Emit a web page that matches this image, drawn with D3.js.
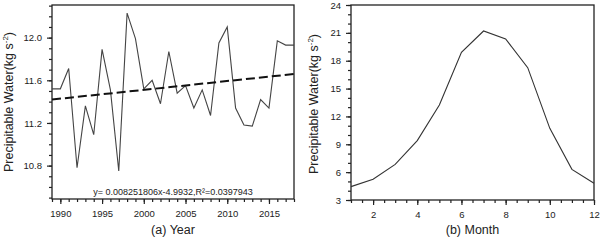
<!DOCTYPE html>
<html><head><meta charset="utf-8">
<script src="https://cdn.jsdelivr.net/npm/d3@7"></script>
<style>body{margin:0;background:#fff}svg{display:block;font-family:"Liberation Sans",Arial,sans-serif}</style>
</head><body><svg id="c" width="601" height="243"></svg>
<script>
const years = d3.range(1989, 2019);
const annualPW = [11.52,11.52,11.71,10.78,11.36,11.09,11.89,11.51,10.75,12.23,11.99,11.52,11.60,11.38,11.87,11.48,11.55,11.34,11.51,11.27,11.95,12.10,11.34,11.18,11.17,11.42,11.34,11.97,11.93,11.93];
const trendSlope = 0.008251806, trendIntercept = -4.9932;
const equationText = "y= 0.008251806x-4.9932,R\u00B2=0.0397943";
const months = d3.range(1, 13);
const monthlyPW = [4.44,5.23,6.84,9.39,13.23,18.9,21.2,20.34,17.25,10.72,6.3,4.8];
const yTicksA = [10.8, 11.2, 11.6, 12.0];
const xTicksA = [1990, 1995, 2000, 2005, 2010, 2015];
const yTicksB = [3, 6, 9, 12, 15, 18, 21, 24];
const xTicksB = [2, 4, 6, 8, 10, 12];

const svg = d3.select("#c");
const col = "#222";

function panel(opt) {
  const g = svg.append("g");
  const x = d3.scaleLinear().domain(opt.xDomain).range([opt.left, opt.right]);
  const y = d3.scaleLinear().domain(opt.yDomain).range([opt.bottom, opt.top]);
  g.append("rect").attr("x", opt.left).attr("y", opt.top)
    .attr("width", opt.right - opt.left).attr("height", opt.bottom - opt.top)
    .attr("fill", "none").attr("stroke", col).attr("stroke-width", 1.3);
  g.append("g").attr("transform", `translate(0,${opt.bottom})`)
    .call(d3.axisBottom(x).tickValues(opt.minorX).tickSize(3).tickFormat(""))
    .call(s => s.select(".domain").remove());
  g.append("g").attr("transform", `translate(${opt.left},0)`)
    .call(d3.axisLeft(y).tickValues(opt.minorY).tickSize(3).tickFormat(""))
    .call(s => s.select(".domain").remove());
  const ax = g.append("g").attr("transform", `translate(0,${opt.bottom})`)
    .call(d3.axisBottom(x).tickValues(opt.xTicks).tickSize(5).tickPadding(6).tickFormat(d3.format("d")));
  ax.select(".domain").remove();
  const ay = g.append("g").attr("transform", `translate(${opt.left},0)`)
    .call(d3.axisLeft(y).tickValues(opt.yTicks).tickSize(5).tickPadding(5).tickFormat(opt.yFmt));
  ay.select(".domain").remove();
  g.selectAll(".tick line").attr("stroke", col).attr("stroke-width", 1.2);
  g.selectAll(".tick text").attr("fill", col).attr("font-size", 9.5).attr("font-family", "Liberation Sans, Arial, sans-serif");
  g.append("text").attr("x", (opt.left + opt.right) / 2).attr("y", 234)
    .attr("text-anchor", "middle").attr("font-size", 12.5).attr("fill", col).text(opt.xTitle);
  const yt = g.append("text").attr("transform", `translate(${opt.left - opt.titleOff},${opt.titleMid}) rotate(-90)`)
    .attr("text-anchor", "middle").attr("font-size", 12.5).attr("fill", col);
  yt.append("tspan").text("Precipitable Water(kg s");
  yt.append("tspan").attr("dy", -5).attr("font-size", 8).text("-2");
  yt.append("tspan").attr("dy", 5).text(")");
  return {g, x, y};
}

const A = panel({left: 52, right: 294, top: 5, bottom: 199,
  xDomain: [1989, 2018], yDomain: [10.487, 12.306],
  xTicks: xTicksA, yTicks: yTicksA, yFmt: d3.format(".1f"),
  minorX: years, minorY: d3.range(10.5, 12.31, 0.1).map(v => +v.toFixed(1)),
  xTitle: "(a) Year", titleOff: 39, titleMid: 102});
A.g.append("path").datum(years.map((yr, i) => [yr, annualPW[i]]))
  .attr("fill", "none").attr("stroke", "#444").attr("stroke-width", 1.1)
  .attr("d", d3.line().x(d => A.x(d[0])).y(d => A.y(d[1])));
A.g.append("line")
  .attr("x1", A.x(1989)).attr("y1", A.y(trendSlope * 1989 + trendIntercept))
  .attr("x2", A.x(2018)).attr("y2", A.y(trendSlope * 2018 + trendIntercept))
  .attr("stroke", "#111").attr("stroke-width", 2).attr("stroke-dasharray", "9,4");
A.g.append("text").attr("x", 173).attr("y", 195).attr("text-anchor", "middle")
  .attr("font-size", 9).attr("fill", col).text(equationText);

const B = panel({left: 351, right: 594, top: 5, bottom: 200,
  xDomain: [1, 12], yDomain: [3, 24],
  xTicks: xTicksB, yTicks: yTicksB, yFmt: d3.format("d"),
  minorX: d3.range(1, 12.01, 0.5), minorY: d3.range(3, 24.01, 1),
  xTitle: "(b) Month", titleOff: 33, titleMid: 104});
B.g.append("path").datum(months.map((m, i) => [m, monthlyPW[i]]))
  .attr("fill", "none").attr("stroke", "#333").attr("stroke-width", 1.1)
  .attr("d", d3.line().x(d => B.x(d[0])).y(d => B.y(d[1])));
</script></body></html>
